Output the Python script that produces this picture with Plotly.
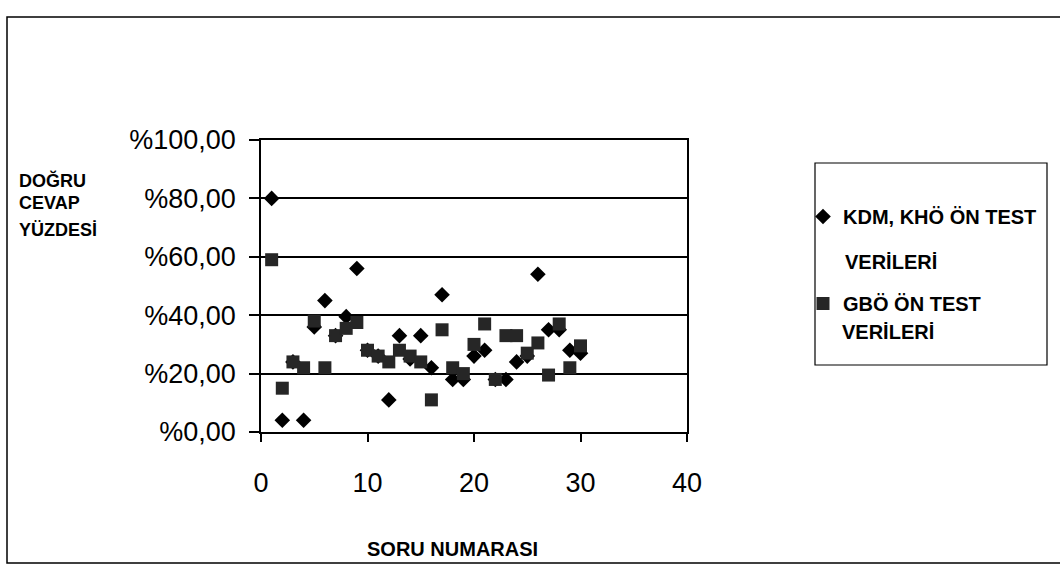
import plotly.graph_objects as go

# ---- data ----
soru_no = list(range(1, 31))
kdm_kho = [80, 4, 24, 4, 36, 45, 33, 39.5, 56, 28, 26, 11, 33, 25, 33,
           22, 47, 18, 18, 26, 28, 18, 18, 24, 26, 54, 35, 35, 28, 27]
gbo = [59, 15, 24, 22, 38, 22, 33, 35.5, 37.5, 28, 26, 24, 28, 26, 24,
       11, 35, 22, 20, 30, 37, 18, 33, 33, 27, 30.5, 19.5, 37, 22, 29.5]
y_tickvals = [0, 20, 40, 60, 80, 100]
y_ticktext = ["%0,00", "%20,00", "%40,00", "%60,00", "%80,00", "%100,00"]
x_tickvals = [0, 10, 20, 30, 40]
series_names = ["KDM, KHÖ ÖN TEST", "GBÖ ÖN TEST"]

W, H = 1060, 574
L, R, T, B = 261, 687, 140, 432  # plot area in pixels


def px(xp):
    return (xp - L) / (R - L)


def py(yp):
    return (B - yp) / (B - T)


FONT = "Liberation Sans, Arial, sans-serif"
TXT = 20

fig = go.Figure()
fig.add_trace(go.Scatter(
    x=soru_no, y=kdm_kho, mode="markers", name="<b>" + series_names[0] + "</b>",
    legendgroup="a",
    marker=dict(symbol="diamond", size=12, color="black",
                line=dict(width=0))))
fig.add_trace(go.Scatter(
    x=soru_no, y=gbo, mode="markers", name="<b>" + series_names[1] + "</b>",
    legendgroup="b",
    marker=dict(symbol="square", size=13, color="#262626",
                line=dict(width=0))))

shapes = [
    # outer chart frame
    dict(type="rect", xref="paper", yref="paper",
         x0=px(7), x1=px(1064), y0=py(563), y1=py(17),
         line=dict(color="black", width=1.5)),
    # legend box
    dict(type="rect", xref="paper", yref="paper",
         x0=px(815), x1=px(1047), y0=py(365), y1=py(163),
         line=dict(color="black", width=1.2)),
]

annotations = [
    dict(text="DOĞRU", x=px(17), y=py(180), size=18),
    dict(text="CEVAP", x=px(17), y=py(203), size=18),
    dict(text="YÜZDESİ", x=px(17), y=py(230), size=18),
    dict(text="VERİLERİ", x=px(843), y=py(262), size=TXT),
    dict(text="VERİLERİ", x=px(840), y=py(332), size=TXT),
]
for a in annotations:
    s = a.pop("size")
    a.update(xref="paper", yref="paper", xanchor="left", yanchor="middle",
             showarrow=False, font=dict(family=FONT, size=s, color="black"))
annotations.append(dict(text="SORU NUMARASI", x=px(452), y=py(549),
                        xref="paper", yref="paper", xanchor="center",
                        yanchor="middle", showarrow=False,
                        font=dict(family=FONT, size=TXT, color="black")))
for a in annotations:
    a["text"] = "<b>" + a["text"] + "</b>"

fig.update_layout(
    width=W, height=H,
    margin=dict(l=L, r=W - R, t=T, b=H - B, pad=0),
    paper_bgcolor="white", plot_bgcolor="white",
    showlegend=True,
    legend=dict(x=px(803), y=py(197), xanchor="left", yanchor="top",
                bgcolor="rgba(0,0,0,0)", borderwidth=0,
                tracegroupgap=58, itemwidth=30,
                font=dict(family=FONT, size=TXT, color="black")),
    shapes=shapes, annotations=annotations,
    font=dict(family=FONT, color="black"),
)

fig.update_xaxes(range=[0, 40], tickvals=x_tickvals, showgrid=False,
                 zeroline=False, showline=True, linecolor="black",
                 linewidth=1.5, mirror=True, ticks="outside", ticklen=8,
                 tickwidth=1.5, tickcolor="black", ticklabelstandoff=18,
                 tickfont=dict(family=FONT, size=27, color="black"))
fig.update_yaxes(range=[0, 100], tickvals=y_tickvals, ticktext=y_ticktext,
                 showgrid=True, gridcolor="black", gridwidth=1.5,
                 zeroline=False, showline=True, linecolor="black",
                 linewidth=1.5, mirror=True, ticks="outside", ticklen=10,
                 tickwidth=1.5, tickcolor="black", ticklabelstandoff=8,
                 tickfont=dict(family=FONT, size=27, color="black"))

fig.write_html("out.html")
